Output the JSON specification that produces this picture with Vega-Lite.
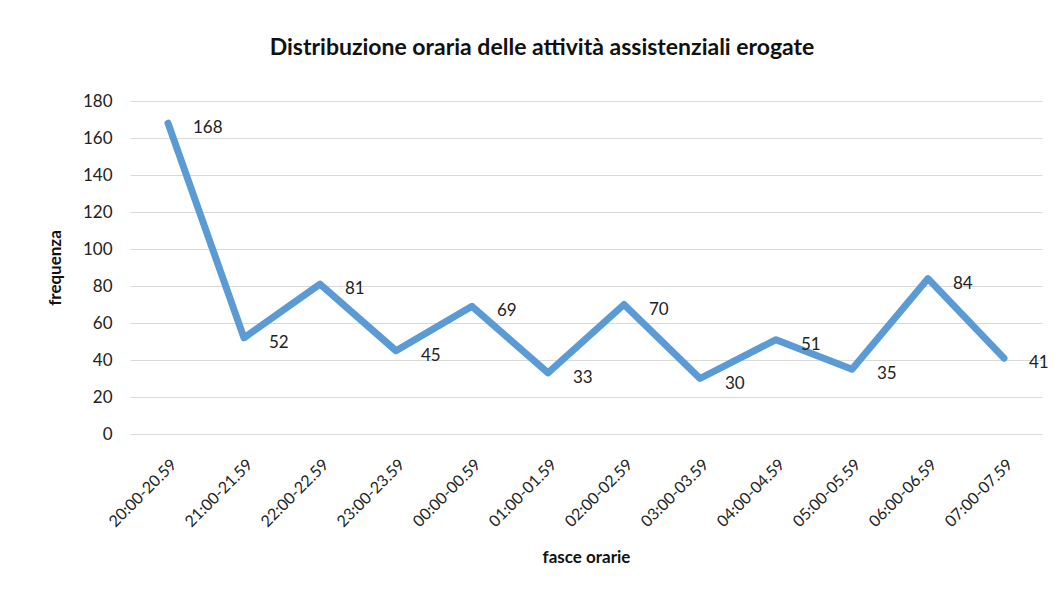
{
  "$schema": "https://vega.github.io/schema/vega-lite/v6.json",
  "autosize": "none",
  "width": 912,
  "height": 333,
  "padding": {"left": 130, "top": 101, "right": 19, "bottom": 166},
  "background": "white",
  "config": {
    "view": {"stroke": null},
    "font": "Lato",
    "axis": {"labelFont": "Lato", "titleFont": "Lato", "labelColor": "#222", "titleColor": "#111"}
  },
  "title": {
    "text": "Distribuzione oraria delle attività assistenziali erogate",
    "fontSize": 23,
    "fontWeight": "bold",
    "font": "Lato",
    "color": "#111",
    "anchor": "middle",
    "dx": -44,
    "offset": 32
  },
  "data": {
    "values": [
      {"fascia": "20:00-20.59", "frequenza": 168},
      {"fascia": "21:00-21.59", "frequenza": 52},
      {"fascia": "22:00-22.59", "frequenza": 81},
      {"fascia": "23:00-23.59", "frequenza": 45},
      {"fascia": "00:00-00.59", "frequenza": 69},
      {"fascia": "01:00-01.59", "frequenza": 33},
      {"fascia": "02:00-02.59", "frequenza": 70},
      {"fascia": "03:00-03.59", "frequenza": 30},
      {"fascia": "04:00-04.59", "frequenza": 51},
      {"fascia": "05:00-05.59", "frequenza": 35},
      {"fascia": "06:00-06.59", "frequenza": 84},
      {"fascia": "07:00-07.59", "frequenza": 41}
    ]
  },
  "encoding": {
    "x": {
      "field": "fascia",
      "type": "ordinal",
      "sort": null,
      "scale": {"type": "point", "padding": 0.5},
      "axis": {
        "title": "fasce orarie",
        "titleFontSize": 17,
        "titleFontWeight": "bold",
        "titlePadding": 20,
        "labelAngle": -45,
        "labelFontSize": 16,
        "labelPadding": 22,
        "ticks": false,
        "domain": false,
        "grid": false
      }
    },
    "y": {
      "field": "frequenza",
      "type": "quantitative",
      "scale": {"domain": [0, 180]},
      "axis": {
        "title": "frequenza",
        "titleFontSize": 17,
        "titleFontWeight": "bold",
        "titlePadding": 18,
        "values": [0, 20, 40, 60, 80, 100, 120, 140, 160, 180],
        "labelFontSize": 17,
        "labelPadding": 18,
        "ticks": false,
        "domain": false,
        "grid": true,
        "gridColor": "#d9d9d9",
        "gridWidth": 1
      }
    }
  },
  "layer": [
    {
      "mark": {"type": "line", "color": "#5b9bd5", "strokeWidth": 7, "strokeJoin": "round", "strokeCap": "round"}
    },
    {
      "mark": {"type": "text", "align": "left", "dx": 25, "dy": 5, "fontSize": 17, "color": "#222"},
      "encoding": {"text": {"field": "frequenza", "type": "quantitative"}}
    }
  ]
}
